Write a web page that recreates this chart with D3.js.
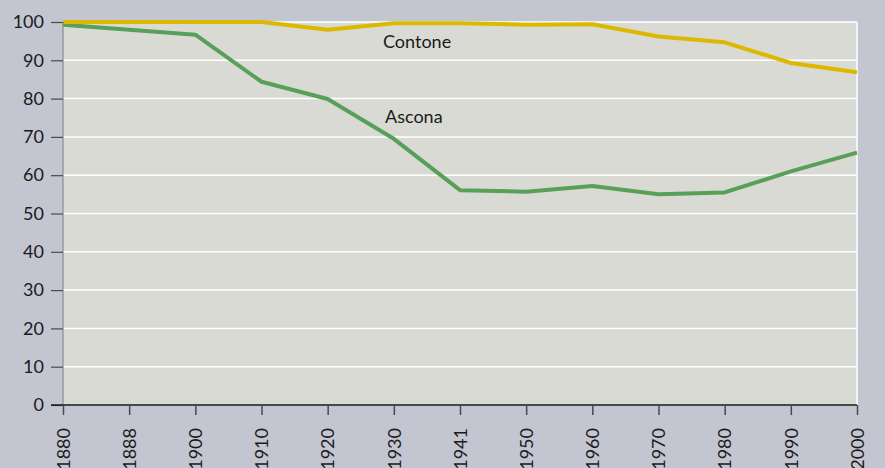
<!DOCTYPE html>
<html><head><meta charset="utf-8">
<script src="https://cdn.jsdelivr.net/npm/d3@7"></script>
<style>
html,body{margin:0;padding:0;background:#c3c5d1;}
svg{display:block;}
text{font-family:Lato, "DejaVu Sans", sans-serif;}
</style></head>
<body>
<svg id="c" width="885" height="468"></svg>
<script>
const years = ["1880","1888","1900","1910","1920","1930","1941","1950","1960","1970","1980","1990","2000"];
const contone = [100, 100, 100, 100, 98, 99.7, 99.7, 99.3, 99.4, 96.2, 94.7, 89.3, 86.9];
const ascona  = [99.3, 98, 96.7, 84.4, 79.9, 69.5, 56.1, 55.7, 57.2, 55, 55.5, 61, 65.9];
const yTicks = [0,10,20,30,40,50,60,70,80,90,100];
const seriesNames = ["Contone","Ascona"];

const svg = d3.select("#c");
const W = 885, H = 468;
const m = {left:63, right:28, top:22, bottom:63};
const x = d3.scalePoint().domain(years).range([m.left, W - m.right]);
const y = d3.scaleLinear().domain([0,100]).range([H - m.bottom, m.top]);

// plot background
svg.append("rect").attr("x", m.left).attr("y", m.top)
  .attr("width", W - m.right - m.left).attr("height", y(0) - m.top)
  .attr("fill", "#d9dad4");

// gridlines
svg.append("g").selectAll("line").data(yTicks.filter(d => d > 0)).join("line")
  .attr("x1", m.left).attr("x2", W - m.right)
  .attr("y1", d => y(d)).attr("y2", d => y(d))
  .attr("stroke", "#ffffff").attr("stroke-width", 1.5);
// right border
svg.append("line").attr("x1", W - m.right).attr("x2", W - m.right)
  .attr("y1", m.top).attr("y2", y(0)).attr("stroke", "#ffffff").attr("stroke-width", 1.5);

// lines
const line = d3.line().x((d,i) => x(years[i])).y(d => y(d));
svg.append("path").datum(ascona).attr("d", line).attr("fill","none")
  .attr("stroke", "#58a05a").attr("stroke-width", 4).attr("stroke-linejoin","round");
svg.append("path").datum(contone).attr("d", line).attr("fill","none")
  .attr("stroke", "#dcb900").attr("stroke-width", 4).attr("stroke-linejoin","round");

// left axis
svg.append("line").attr("x1", m.left).attr("x2", m.left).attr("y1", m.top).attr("y2", y(0))
  .attr("stroke", "#8a8a8a").attr("stroke-width", 1.2);
const yAxis = svg.append("g").attr("transform", `translate(${m.left},0)`)
  .call(d3.axisLeft(y).tickValues(yTicks).tickSize(12).tickPadding(7).tickFormat(d3.format("d")));
yAxis.select(".domain").remove();
yAxis.selectAll(".tick line").attr("stroke", "#4a4a4a").attr("stroke-width", 1.2);
yAxis.selectAll(".tick text").attr("font-size", 18).attr("fill", "#1a1a1a")
  .style("font-family", "Lato, sans-serif");

// bottom axis
const xAxis = svg.append("g").attr("transform", `translate(0,${y(0)})`)
  .call(d3.axisBottom(x).tickSize(10).tickPadding(0));
xAxis.select(".domain").attr("stroke", "#1a1a1a").attr("stroke-width", 1.5)
  .attr("d", `M${m.left - 12},0H${W - m.right}`);
xAxis.selectAll(".tick line").attr("stroke", "#4a4a4a").attr("stroke-width", 1.5);
xAxis.selectAll(".tick text")
  .attr("font-size", 18).attr("fill", "#1a1a1a")
  .attr("transform", "rotate(-90)")
  .attr("text-anchor", "end")
  .attr("x", -23).attr("y", 0).attr("dy", "0.35em")
  .style("font-family", "Lato, sans-serif");

// series labels
svg.append("text").attr("x", 383).attr("y", 48).attr("font-size", 18).attr("fill", "#1a1a1a").text(seriesNames[0]);
svg.append("text").attr("x", 385).attr("y", 123).attr("font-size", 18).attr("fill", "#1a1a1a").text(seriesNames[1]);
</script>
</body></html>
